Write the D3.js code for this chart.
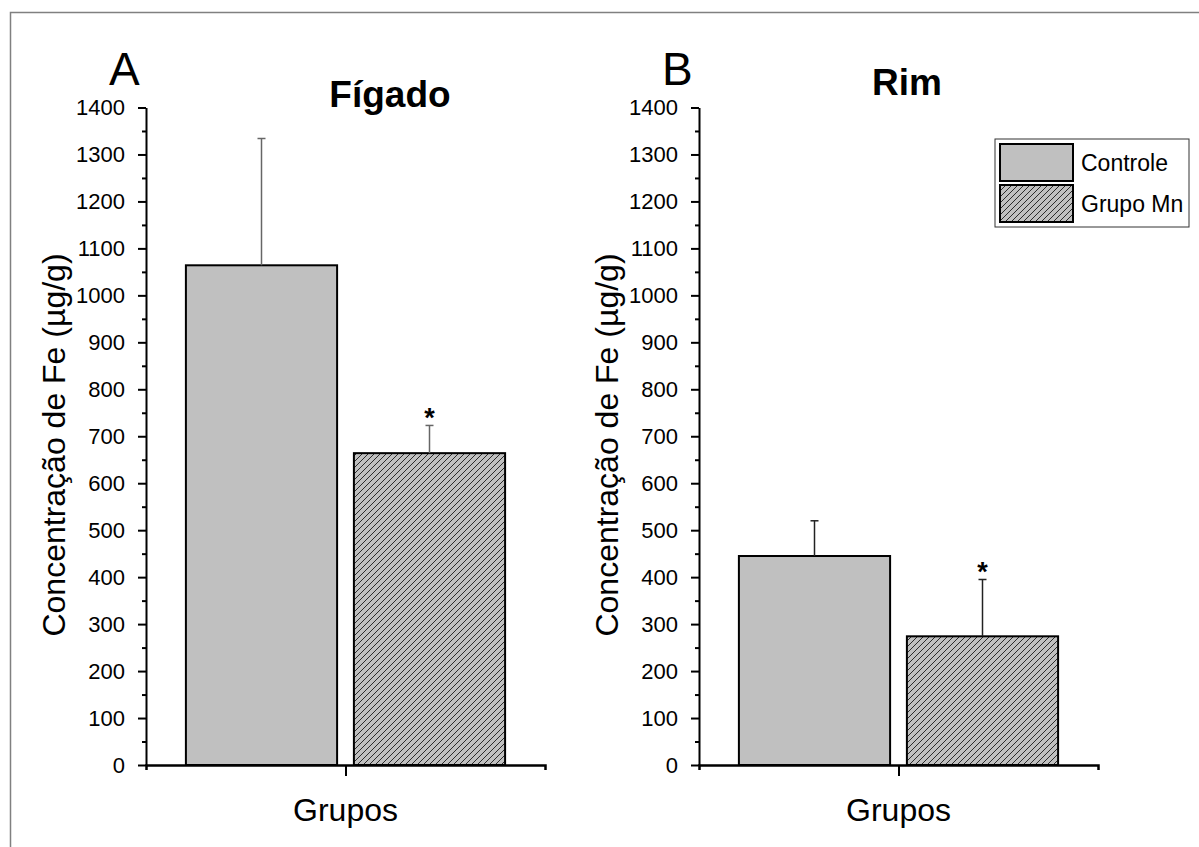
<!DOCTYPE html>
<html>
<head>
<meta charset="utf-8">
<script src="https://cdn.jsdelivr.net/npm/d3@7"></script>
<style>
  body { margin: 0; background: #fff; }
  text { font-family: "Liberation Sans", Arial, sans-serif; }
</style>
</head>
<body>
<div id="chart"></div>
<script>
// values (µg/g)
var groups = ["Controle", "Grupo Mn"];
var figadoMean = [1064, 664];
var figadoErr = [270, 59];
var rimMean = [445, 274];
var rimErr = [75, 121];
var signif = [false, true];
var yTicks = d3.range(0, 1401, 100);
var yMinor = d3.range(50, 1400, 100);

var width = 1199, height = 847;

var svg = d3.select("#chart").append("svg")
    .attr("width", width)
    .attr("height", height);

// hatch used for "Grupo Mn"
var defs = svg.append("defs");
var pat = defs.append("pattern")
    .attr("id", "hatch")
    .attr("patternUnits", "userSpaceOnUse")
    .attr("width", 6)
    .attr("height", 6);
pat.append("rect").attr("width", 6).attr("height", 6).attr("fill", "#c0c0c0");
pat.append("path")
    .attr("d", "M0,6 L6,0 M-1.5,1.5 L1.5,-1.5 M4.5,7.5 L7.5,4.5")
    .attr("stroke", "#2b2b2b")
    .attr("stroke-width", 1);

var fills = ["#c0c0c0", "url(#hatch)"];

// outer frame
svg.append("rect")
    .attr("x", 10.5).attr("y", 12.5)
    .attr("width", 1190).attr("height", 845)
    .attr("fill", "none")
    .attr("stroke", "#808080")
    .attr("stroke-width", 1.5);

var y = d3.scaleLinear().domain([0, 1400]).range([765, 107.5]);

function drawPanel(x0, means, errs, letter, title, titleX, titleY, labelX, errColor) {
    var g = svg.append("g");
    var x = d3.scaleLinear().domain([0.5, 1.5]).range([x0, x0 + 399]);
    var band = d3.scaleBand().domain(groups)
        .range([x(0.6), x(1.4)])
        .paddingInner(0.1);

    // bars
    g.selectAll("rect.bar")
        .data(groups)
        .join("rect")
        .attr("class", "bar")
        .attr("x", d => band(d))
        .attr("width", band.bandwidth())
        .attr("y", (d, i) => y(means[i]))
        .attr("height", (d, i) => y(0) - y(means[i]))
        .attr("fill", (d, i) => fills[i])
        .attr("stroke", "#000")
        .attr("stroke-width", 2);

    // error bars (upper only)
    groups.forEach(function(d, i) {
        var cx = band(d) + band.bandwidth() / 2;
        var top = y(means[i] + errs[i]);
        g.append("line")
            .attr("x1", cx).attr("x2", cx)
            .attr("y1", y(means[i])).attr("y2", top)
            .attr("stroke", errColor).attr("stroke-width", 1.5);
        g.append("line")
            .attr("x1", cx - 4).attr("x2", cx + 4)
            .attr("y1", top).attr("y2", top)
            .attr("stroke", errColor).attr("stroke-width", 1.5);
        if (signif[i]) {
            g.append("text")
                .attr("x", cx).attr("y", top + 2)
                .attr("text-anchor", "middle")
                .attr("font-size", 27)
                .attr("font-weight", "bold")
                .text("*");
        }
    });

    // y axis
    var yAxis = g.append("g")
        .attr("transform", "translate(" + x0 + ",0)")
        .call(d3.axisLeft(y).tickValues(yTicks).tickFormat(d3.format("d"))
            .tickSize(8).tickPadding(13).tickSizeOuter(0));
    yAxis.select(".domain").attr("stroke-width", 2);
    yAxis.selectAll(".tick line").attr("stroke-width", 2);
    yAxis.selectAll("text").attr("font-size", 22).attr("fill", "#000");
    g.append("g")
        .attr("transform", "translate(" + x0 + ",0)")
        .call(d3.axisLeft(y).tickValues(yMinor).tickSize(4).tickFormat(""))
        .call(a => a.select(".domain").remove())
        .selectAll(".tick line").attr("stroke-width", 2);

    // x axis
    var xAxis = g.append("g")
        .attr("transform", "translate(0," + y(0) + ")")
        .call(d3.axisBottom(x).tickValues([1]).tickSize(11).tickFormat("").tickSizeOuter(5));
    xAxis.select(".domain").attr("stroke-width", 2.5);
    xAxis.selectAll(".tick line").attr("stroke-width", 2);

    g.append("text")
        .attr("x", x(1)).attr("y", 821)
        .attr("text-anchor", "middle")
        .attr("font-size", 32)
        .text("Grupos");

    g.append("text")
        .attr("transform", "translate(" + labelX + ",445) rotate(-90)")
        .attr("text-anchor", "middle")
        .attr("font-size", 32)
        .text("Concentração de Fe (µg/g)");

    g.append("text")
        .attr("x", x0 - 37).attr("y", 85)
        .attr("font-size", 46)
        .text(letter);

    g.append("text")
        .attr("x", titleX).attr("y", titleY)
        .attr("text-anchor", "middle")
        .attr("font-size", 37)
        .attr("font-weight", "bold")
        .text(title);
}

drawPanel(146, figadoMean, figadoErr, "A", "Fígado", 390, 107, 65, "#666");
drawPanel(699, rimMean, rimErr, "B", "Rim", 907, 95, 618, "#222");

// legend
var leg = svg.append("g").attr("transform", "translate(995,139)");
leg.append("rect")
    .attr("width", 194).attr("height", 88)
    .attr("fill", "#fff")
    .attr("stroke", "#333")
    .attr("stroke-width", 1);
var item = leg.selectAll("g.item")
    .data(groups)
    .join("g")
    .attr("class", "item")
    .attr("transform", (d, i) => "translate(5," + (5 + i * 41) + ")");
item.append("rect")
    .attr("width", 73).attr("height", 37)
    .attr("fill", (d, i) => fills[i])
    .attr("stroke", "#000")
    .attr("stroke-width", 2);
item.append("text")
    .attr("x", 81).attr("y", 27)
    .attr("font-size", 23)
    .text(d => d);
</script>
</body>
</html>
